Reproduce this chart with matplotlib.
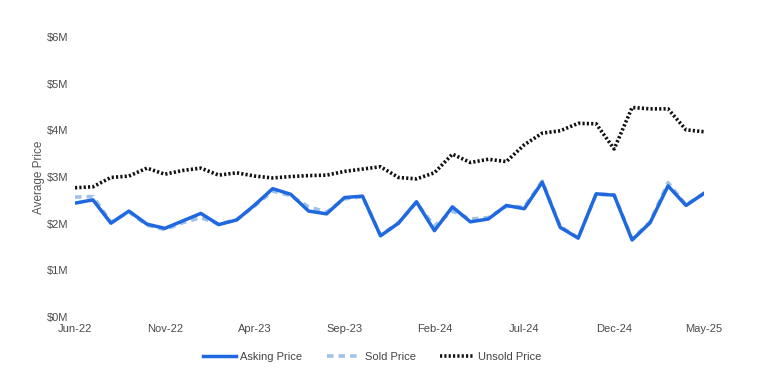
import matplotlib
matplotlib.use("Agg")
import matplotlib.pyplot as plt
from matplotlib.ticker import FuncFormatter

months = ["Jun-22","Jul-22","Aug-22","Sep-22","Oct-22","Nov-22","Dec-22","Jan-23","Feb-23","Mar-23",
          "Apr-23","May-23","Jun-23","Jul-23","Aug-23","Sep-23","Oct-23","Nov-23","Dec-23","Jan-24",
          "Feb-24","Mar-24","Apr-24","May-24","Jun-24","Jul-24","Aug-24","Sep-24","Oct-24","Nov-24",
          "Dec-24","Jan-25","Feb-25","Mar-25","Apr-25","May-25"]

asking = [2.44, 2.51, 2.01, 2.27, 1.99, 1.90, 2.06, 2.22, 1.98, 2.08,
          2.40, 2.75, 2.63, 2.27, 2.21, 2.56, 2.59, 1.74, 2.01, 2.47,
          1.85, 2.36, 2.04, 2.10, 2.39, 2.32, 2.89, 1.92, 1.69, 2.64,
          2.61, 1.65, 2.02, 2.81, 2.39, 2.65]

sold = [2.57, 2.58, 2.03, 2.25, 1.97, 1.87, 2.02, 2.13, 1.99, 2.09,
        2.38, 2.70, 2.60, 2.36, 2.25, 2.53, 2.58, 1.75, 2.02, 2.45,
        1.95, 2.27, 2.10, 2.13, 2.37, 2.36, 2.91, 1.94, 1.70, 2.63,
        2.62, 1.67, 2.04, 2.88, 2.40, 2.65]

unsold = [2.77, 2.79, 2.99, 3.02, 3.19, 3.06, 3.14, 3.19, 3.04, 3.09,
          3.02, 2.98, 3.01, 3.03, 3.04, 3.12, 3.17, 3.22, 2.99, 2.96,
          3.09, 3.49, 3.31, 3.38, 3.33, 3.69, 3.94, 3.99, 4.15, 4.14,
          3.60, 4.49, 4.46, 4.46, 4.01, 3.97]

yticks = [0, 1, 2, 3, 4, 5, 6]

plt.rcParams['font.family'] = ['Liberation Sans', 'DejaVu Sans']

fig = plt.figure(figsize=(7.6, 3.91), dpi=100)
ax = fig.add_axes([75/760, 1-317/391, (704-75)/760, (317-37)/391])

x = list(range(len(months)))
ax.plot(x, unsold, color="#111111", lw=2.6, linestyle=(0, (0.6, 0.6)), label="Unsold Price", zorder=2)
ax.plot(x, sold, color="#9fc3e8", lw=2.6, linestyle=(0, (1.8, 1.4)), label="Sold Price", zorder=3)
ax.plot(x, asking, color="#2068e0", lw=2.5, label="Asking Price", zorder=4)

ax.set_xlim(0, len(months) - 1)
ax.set_ylim(0, 6)
ax.set_yticks(yticks)
ax.yaxis.set_major_formatter(FuncFormatter(lambda v, p: f"${v:.0f}M"))
ax.set_xticks(x[::5])
ax.set_xticklabels(months[::5])

for s in ax.spines.values():
    s.set_visible(False)
ax.tick_params(axis='both', length=0, labelsize=8, colors="#4a4a4a")
ax.tick_params(axis='x', pad=5)
ax.tick_params(axis='y', pad=5)
ax.set_ylabel("Average Price", fontsize=8.5, color="#555555", labelpad=1)

h, l = ax.get_legend_handles_labels()
lookup = dict(zip(l, h))
order = ["Asking Price", "Sold Price", "Unsold Price"]
leg = fig.legend([lookup[k] for k in order], order, loc="center",
                 bbox_to_anchor=(372/760, 1-357/391), ncol=3, frameon=False,
                 fontsize=8, handlelength=3.0, columnspacing=2.2, handletextpad=0.4)
for t in leg.get_texts():
    t.set_color("#444444")

fig.savefig("out.png", dpi=100)
